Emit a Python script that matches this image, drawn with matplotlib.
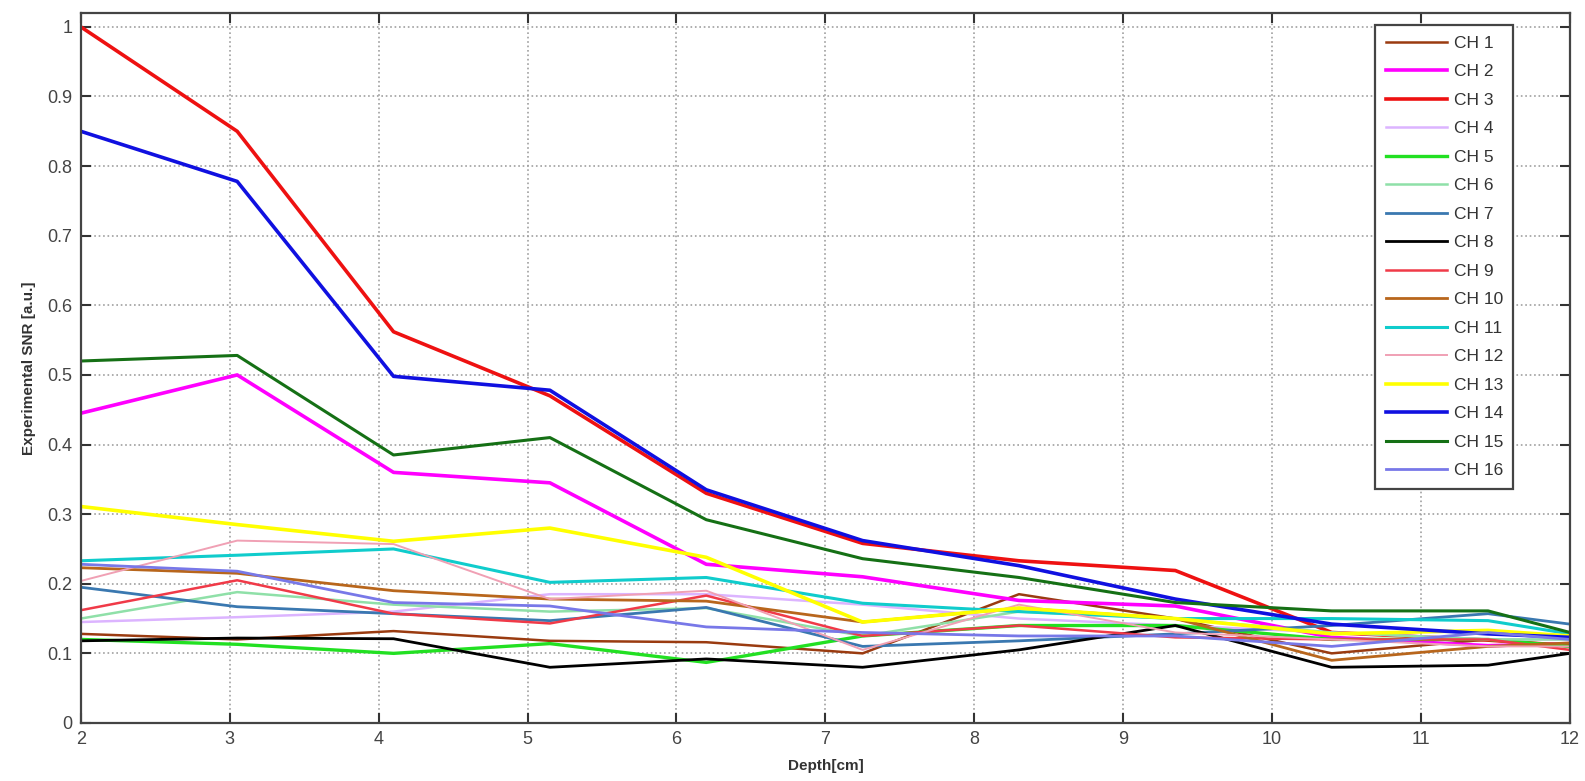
import matplotlib.pyplot as plt
import numpy as np

# depth samples (cm) where the SNR curves are evaluated
depth = [2, 3.05, 4.1, 5.15, 6.2, 7.25, 8.3, 9.35, 10.4, 11.45, 12]

ch1 = [0.128, 0.120, 0.132, 0.118, 0.116, 0.100, 0.185, 0.150, 0.100, 0.120, 0.110]
ch2 = [0.445, 0.500, 0.360, 0.345, 0.228, 0.210, 0.176, 0.168, 0.123, 0.111, 0.114]
ch3 = [1.000, 0.850, 0.562, 0.470, 0.330, 0.258, 0.233, 0.219, 0.130, 0.119, 0.111]
ch4 = [0.145, 0.152, 0.160, 0.185, 0.185, 0.170, 0.150, 0.140, 0.130, 0.120, 0.120]
ch5 = [0.120, 0.113, 0.100, 0.114, 0.087, 0.125, 0.140, 0.140, 0.120, 0.120, 0.110]
ch6 = [0.150, 0.188, 0.170, 0.160, 0.165, 0.125, 0.160, 0.150, 0.130, 0.120, 0.120]
ch7 = [0.195, 0.167, 0.157, 0.147, 0.166, 0.110, 0.118, 0.128, 0.140, 0.157, 0.142]
ch8 = [0.118, 0.122, 0.121, 0.080, 0.092, 0.080, 0.105, 0.140, 0.080, 0.083, 0.100]
ch9 = [0.162, 0.205, 0.157, 0.143, 0.183, 0.125, 0.140, 0.123, 0.120, 0.120, 0.105]
ch10 = [0.223, 0.215, 0.190, 0.178, 0.175, 0.145, 0.165, 0.150, 0.090, 0.110, 0.115]
ch11 = [0.233, 0.241, 0.250, 0.202, 0.209, 0.172, 0.160, 0.150, 0.150, 0.147, 0.128]
ch12 = [0.204, 0.262, 0.257, 0.178, 0.190, 0.105, 0.170, 0.130, 0.120, 0.110, 0.110]
ch13 = [0.311, 0.285, 0.261, 0.280, 0.238, 0.145, 0.165, 0.150, 0.128, 0.133, 0.125]
ch14 = [0.850, 0.778, 0.498, 0.478, 0.335, 0.262, 0.226, 0.178, 0.142, 0.128, 0.123]
ch15 = [0.520, 0.528, 0.385, 0.410, 0.292, 0.236, 0.209, 0.173, 0.161, 0.161, 0.130]
ch16 = [0.228, 0.218, 0.173, 0.168, 0.138, 0.130, 0.125, 0.125, 0.110, 0.130, 0.120]

labels = ['CH %d' % i for i in range(1, 17)]
series = [ch1, ch2, ch3, ch4, ch5, ch6, ch7, ch8,
          ch9, ch10, ch11, ch12, ch13, ch14, ch15, ch16]
colors = ['#9a3b10', '#ff00ff', '#ee1111', '#dcb4ff', '#22e022', '#8fe0a8',
          '#3a78b0', '#000000', '#f03a48', '#b8661c', '#10cccc', '#f0a0b4',
          '#ffff00', '#1010e0', '#157015', '#7878e8']
widths = [1.8, 2.6, 2.6, 1.8, 2.4, 1.8, 2.0, 2.0,
          1.8, 2.0, 2.2, 1.4, 2.6, 2.6, 2.2, 2.0]

plt.rcParams['font.family'] = ['Liberation Sans', 'DejaVu Sans']

fig = plt.figure(figsize=(15.85, 7.81), dpi=100)
ax = fig.add_axes([0.051, 0.0743, 0.9395, 0.9091])

for y, c, w, lab in zip(series, colors, widths, labels):
    ax.plot(depth, y, color=c, linewidth=w, label=lab)

ax.set_xlim(2, 12)
ax.set_ylim(0, 1.02)
ax.set_xticks(np.arange(2, 13, 1))
ax.set_yticks(np.arange(0, 1.01, 0.1))
ax.set_yticklabels(['0', '0.1', '0.2', '0.3', '0.4', '0.5', '0.6', '0.7', '0.8', '0.9', '1'])

ax.grid(True, color='#a0a0a0', linestyle=':', linewidth=1.2)
ax.tick_params(direction='in', length=7, width=1.5, top=True, right=True,
               labelsize=13, colors='#333333', labelcolor='#444444', pad=6)
for s in ax.spines.values():
    s.set_color('#444444')
    s.set_linewidth(1.6)

ax.set_xlabel('Depth[cm]', fontsize=11, fontweight='bold', color='#333333', labelpad=8)
ax.set_ylabel('Experimental SNR [a.u.]', fontsize=11, fontweight='bold', color='#333333', labelpad=8)

leg = ax.legend(loc='upper right', bbox_to_anchor=(0.962, 0.983), borderaxespad=0,
                fontsize=12.5, handlelength=3.5, labelspacing=0.77, fancybox=False,
                framealpha=1, edgecolor='#444444', borderpad=0.6, handletextpad=0.4)
leg.get_frame().set_linewidth(1.6)
for t in leg.get_texts():
    t.set_color('#333333')

fig.savefig('out.png', dpi=100)
